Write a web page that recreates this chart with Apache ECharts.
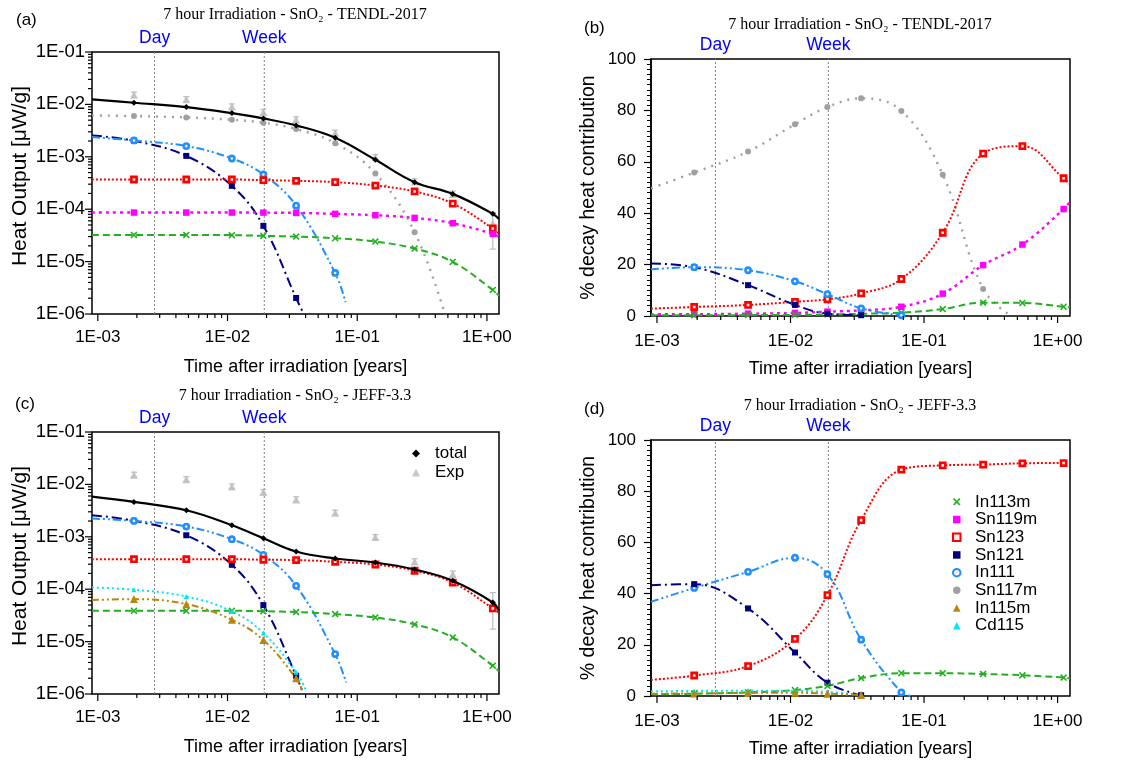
<!DOCTYPE html>
<html><head><meta charset="utf-8">
<script src="https://cdn.jsdelivr.net/npm/echarts@6/dist/echarts.min.js"></script>
<style>html,body{margin:0;padding:0;background:#fff}#c{width:1128px;height:762px}</style>
</head><body><div id="c"></div>
<script>
// ---------- axis ranges / reference lines ----------
const tMin = 0.000902, tMax = 1.239;
const refTimes  = [0.00274, 0.0192];
const refLabels = ['Day', 'Week'];
// measurement times [years]
const times = [0.0019, 0.00481, 0.0108, 0.0189, 0.0338, 0.0676, 0.138, 0.277, 0.545, 1.11];

// experimental heat output (same measurement in (a) and (c))
const exp     = [0.0153, 0.0125, 0.00916, 0.00714, 0.00517, 0.00288, 0.000986, 0.000338, 0.000196, 5.4e-5];
const expLow  = [0.0137, 0.0112, 0.0082, 0.0064, 0.0046, 0.00258, 0.00088, 0.000300, 0.000172, 1.73e-5];
const expHigh = [0.0171, 0.0140, 0.0102, 0.0080, 0.0058, 0.00322, 0.00110, 0.000380, 0.000222, 8.6e-5];

// Each curve: values at `times` (null = no point) and ends = [value at left edge, tail time, tail value]
// ---- (a) TENDL-2017 heat output [uW/g]
const aTotal   = [0.01076,0.0089,0.00682,0.0054,0.00397,0.00231,0.000877,0.000328,0.000196,8.15e-5];
const aTotalE  = [0.01247, tMax, 6.5e-5];
const aSn117m  = [0.00598,0.00565,0.0051,0.00447,0.00338,0.00182,0.000481,3.64e-5,null,null];
const aSn117mE = [0.00617, 0.48, 9e-7];
const aSn121   = [0.00202,0.00104,0.000279,4.81e-5,2.02e-6,null,null,null,null,null];
const aSn121E  = [0.00256, 0.0376, 1.16e-6];
const aIn111   = [0.00205,0.0016,0.000929,0.000459,0.000117,6.07e-6,null,null,null,null];
const aIn111E  = [0.00238, 0.0813, 1.67e-6];
const aSn123   = [0.000369,0.000369,0.000369,0.000358,0.000348,0.000328,0.000283,0.000218,0.000128,4.28e-5];
const aSn123E  = [0.000369, tMax, 3.38e-5];
const aSn119m  = [8.63e-5,8.63e-5,8.63e-5,8.6e-5,8.5e-5,8.15e-5,7.68e-5,6.82e-5,5.4e-5,3.38e-5];
const aSn119mE = [8.63e-5, tMax, 3.0e-5];
const aIn113m  = [3.23e-5,3.23e-5,3.2e-5,3.1e-5,3.0e-5,2.79e-5,2.41e-5,1.77e-5,9.86e-6,2.88e-6];
const aIn113mE = [3.23e-5, tMax, 2.24e-6];

// ---- (b) TENDL-2017 % decay heat contribution
const bSn117m  = [55.8,64.0,74.6,81.3,84.7,79.8,55.0,10.5,null,null];
const bSn117mE = [49.7, 0.45, 0];
const bSn123   = [3.5,4.3,5.5,6.5,8.8,14.4,32.4,63.2,66.1,53.6];
const bSn123E  = [2.86, tMax, 51.2];
const bSn119m  = [0.7,0.9,1.2,1.7,2.2,3.6,8.7,19.8,27.8,41.6];
const bSn119mE = [0.65, tMax, 44.5];
const bIn113m  = [0.3,0.35,0.45,0.6,0.85,1.3,2.7,5.2,5.1,3.6];
const bIn113mE = [0.25, tMax, 3.3];
const bSn121   = [19.0,12.0,4.3,0.9,0.3,null,null,null,null,null];
const bSn121E  = [20.4, null, null];
const bIn111   = [19.0,17.8,13.5,8.5,3.0,0.3,null,null,null,null];
const bIn111E  = [18.1, null, null];

// ---- (c) JEFF-3.3 heat output [uW/g]
const cTotal   = [0.00463,0.00321,0.00166,0.00094,0.000523,0.000385,0.000323,0.000238,0.000145,5.58e-5];
const cTotalE  = [0.00585, tMax, 3.87e-5];
const cSn121   = [0.00202,0.00107,0.000292,4.97e-5,2.23e-6,null,null,null,null,null];
const cSn121E  = [0.00258, 0.0376, 1.15e-6];
const cIn111   = [0.00201,0.00157,0.0009,0.000453,0.000116,5.78e-6,null,null,null,null];
const cIn111E  = [0.00223, 0.082, 1.66e-6];
const cSn123   = [0.000374,0.000374,0.000374,0.000365,0.00036,0.000333,0.000296,0.000225,0.000134,4.3e-5];
const cSn123E  = [0.000374, tMax, 3.5e-5];
const cIn113m  = [3.87e-5,3.87e-5,3.87e-5,3.8e-5,3.66e-5,3.35e-5,2.89e-5,2.13e-5,1.2e-5,3.47e-6];
const cIn113mE = [3.87e-5, tMax, 2.7e-6];
const cCd115   = [9.75e-5,7.27e-5,3.77e-5,1.46e-5,2.59e-6,null,null,null,null,null];
const cCd115E  = [0.000108, 0.0399, 1.24e-6];
const cIn115m  = [6.47e-5,5.19e-5,2.61e-5,1.07e-5,1.99e-6,null,null,null,null,null];
const cIn115mE = [6.19e-5, 0.0376, 1.2e-6];

// ---- (d) JEFF-3.3 % decay heat contribution
const dSn123   = [8.0,11.7,22.3,39.4,68.7,88.4,90.1,90.4,90.9,91.0];
const dSn123E  = [6.3, tMax, 91.0];
const dIn111   = [42.2,48.5,54.0,47.6,22.0,1.4,null,null,null,null];
const dIn111E  = [36.8, 0.08, 0];
const dSn121   = [43.7,34.2,17.0,5.2,0.3,null,null,null,null,null];
const dSn121E  = [43.3, null, null];
const dIn113m  = [0.9,1.4,2.3,4.0,7.0,8.9,8.9,8.6,8.1,7.2];
const dIn113mE = [0.65, tMax, 6.8];
const dCd115   = [2.0,2.1,2.0,1.6,0.4,null,null,null,null,null];
const dCd115E  = [1.8, null, null];
const dIn115m  = [1.0,1.2,1.3,0.9,0.4,null,null,null,null,null];
const dIn115mE = [0.9, null, null];

const legendC = ['total', 'Exp'];
const legendD = ['In113m','Sn119m','Sn123','Sn121','In111','Sn117m','In115m','Cd115'];

// ---------- styles ----------
const SANS = 'Liberation Sans, Arial, sans-serif';
const SERIF = 'Liberation Serif, Times New Roman, serif';
const XPATH = 'path://M0,1.6L1.6,0L5,3.4L8.4,0L10,1.6L6.6,5L10,8.4L8.4,10L5,6.6L1.6,10L0,8.4L3.4,5Z';
const ST = {
  total:  {color:'#000000', dash:'solid', w:2.2, sym:'diamond', size:6, z:5},
  In113m: {color:'#22b022', dash:[7,4], w:2, sym:XPATH, size:7},
  Sn119m: {color:'#ff00ff', dash:[3,4], w:2.4, sym:'rect', size:6.5},
  Sn123:  {color:'#ff0000', dash:[2,2], w:2, sym:'rect', size:5.2, hollow:true},
  Sn121:  {color:'#000080', dash:[10,4,2,4], w:2, sym:'rect', size:6},
  In111:  {color:'#1e90ff', dash:[8,3,2,3,2,3], w:2, sym:'circle', size:5.2, hollow:true},
  Sn117m: {color:'#a0a0a0', dash:[2,6], w:2.4, sym:'circle', size:6},
  In115m: {color:'#b8860b', dash:[7,3,2,3,2,3], w:2, sym:'triangle', size:8},
  Cd115:  {color:'#00e5ff', dash:[2,3], w:2, sym:'triangle', size:5},
  Exp:    {color:'#bdbdbd', sym:'triangle', size:8}
};

function curve(p, name, vals, ends) {
  const s = ST[name];
  const data = [];
  if (ends[0] != null) data.push({value:[tMin, ends[0]], symbol:'none'});
  vals.forEach((v, i) => { if (v != null) data.push([times[i], v]); });
  if (ends[1] != null) data.push({value:[ends[1], ends[2]], symbol:'none'});
  return {
    type:'line', name, xAxisIndex:p, yAxisIndex:p, data,
    smooth:0.4, symbol:s.sym, symbolSize:s.size, showAllSymbol:true,
    lineStyle:{color:s.color, width:s.w, type:s.dash},
    itemStyle: s.hollow ? {color:'#ffecec', borderColor:s.color, borderWidth:2.6} : {color:s.color, borderWidth:0},
    z: s.z || 3, animation:false, emphasis:{disabled:true}
  };
}

// Day / Week guide lines with their labels, placed through the axes
function refSeries(p, yLo, yHi) {
  return {
    type:'custom', xAxisIndex:p, yAxisIndex:p, silent:true, clip:false, z:1, animation:false,
    data: refTimes.map(t => [t, yLo, yHi]), encode:{x:0, y:[1,2]},
    renderItem(params, api) {
      const lo = api.coord([api.value(0), api.value(1)]);
      const hi = api.coord([api.value(0), api.value(2)]);
      return {type:'group', children:[
        {type:'line', shape:{x1:lo[0], y1:lo[1], x2:hi[0], y2:hi[1]},
         style:{stroke:'#808080', lineWidth:1, lineDash:[2,2]}},
        {type:'text', x:hi[0], y:hi[1] - 5,
         style:{text:refLabels[params.dataIndex], fill:'#0000ff', font:'17.5px ' + SANS,
                align:'center', verticalAlign:'bottom'}}
      ]};
    }
  };
}

function expSeries(p) {
  return [{
    type:'custom', xAxisIndex:p, yAxisIndex:p, silent:true, z:1, animation:false,
    data: times.map((t, i) => [t, expLow[i], expHigh[i]]),
    encode:{x:0, y:[1,2]},
    renderItem(params, api) {
      const x = api.value(0);
      const a = api.coord([x, api.value(1)]);
      const b = api.coord([x, api.value(2)]);
      const st = {stroke:'#bdbdbd', lineWidth:1.2};
      return {type:'group', children:[
        {type:'line', shape:{x1:a[0], y1:a[1], x2:b[0], y2:b[1]}, style:st},
        {type:'line', shape:{x1:a[0]-3, y1:a[1], x2:a[0]+3, y2:a[1]}, style:st},
        {type:'line', shape:{x1:b[0]-3, y1:b[1], x2:b[0]+3, y2:b[1]}, style:st}
      ]};
    }
  }, {
    type:'scatter', name:'Exp', xAxisIndex:p, yAxisIndex:p, z:2, animation:false,
    data: times.map((t, i) => [t, exp[i]]),
    symbol:'triangle', symbolSize:ST.Exp.size, itemStyle:{color:ST.Exp.color}
  }];
}

// tick marks for log axes, drawn through the axes' scales
const minorK = [1,2,3,4,5,6,7,8,9];
function tickSeries(p, logY) {
  const data = [];
  for (let d = -4; d <= 0; d++) for (const k of minorK) {
    const v = k * Math.pow(10, d);
    if (v >= tMin && v <= tMax) data.push([v, logY ? 1e-6 : 0, k === 1 ? 7 : 4, 0]);
  }
  if (logY) {
    for (let d = -6; d <= -2; d++) for (const k of minorK) data.push([tMin, k * Math.pow(10, d), k === 1 ? 7 : 4, 1]);
    data.push([tMin, 0.1, 7, 1]);
  }
  return {
    type:'custom', xAxisIndex:p, yAxisIndex:p, silent:true, clip:false, z:10, animation:false,
    data, encode:{x:0, y:1},
    renderItem(params, api) {
      const pt = api.coord([api.value(0), api.value(1)]);
      const len = api.value(2);
      const shape = api.value(3) === 0
        ? {x1:pt[0], y1:pt[1], x2:pt[0], y2:pt[1] + len}
        : {x1:pt[0], y1:pt[1], x2:pt[0] - len, y2:pt[1]};
      return {type:'line', shape, style:{stroke:'#000', lineWidth:1.2}};
    }
  };
}

function expLabel(v) {
  const l = Math.log10(v), e = Math.round(l);
  if (Math.abs(l - e) > 1e-6) return '';
  const a = Math.abs(e);
  return '1E' + (e < 0 ? '-' : '+') + (a < 10 ? '0' : '') + a;
}

function xAxis(p, margin) {
  return {
    type:'log', logBase:10, gridIndex:p, min:tMin, max:tMax,
    axisLine:{show:false}, axisTick:{show:false}, splitLine:{show:false}, minorTick:{show:false},
    axisLabel:{formatter:expLabel, fontSize:17, color:'#000', margin, fontFamily:SANS},
    name:'Time after irradiation [years]', nameLocation:'middle', nameGap:44,
    nameTextStyle:{fontSize:18, color:'#000', fontFamily:SANS}
  };
}
function yLog(p) {
  return {
    type:'log', logBase:10, gridIndex:p, min:1e-6, max:0.1,
    axisLine:{show:false}, axisTick:{show:false}, splitLine:{show:false},
    axisLabel:{formatter:expLabel, fontSize:18.5, color:'#000', margin:7, fontFamily:SANS},
    name:'Heat Output [μW/g]', nameLocation:'middle', nameGap:61,
    nameTextStyle:{fontSize:21, color:'#000', fontFamily:SANS, padding:[0,0,0,14]}
  };
}
function yPct(p) {
  return {
    type:'value', gridIndex:p, min:0, max:100, interval:20,
    axisLine:{show:true, lineStyle:{color:'#000', width:1.5}},
    axisTick:{show:true, length:7, lineStyle:{color:'#000', width:1.2}},
    minorTick:{show:true, splitNumber:10, length:4, lineStyle:{color:'#000', width:1}},
    splitLine:{show:false},
    axisLabel:{fontSize:17, color:'#000', margin:15, fontFamily:SANS},
    name:'% decay heat contribution', nameLocation:'middle', nameGap:52,
    nameTextStyle:{fontSize:19.5, color:'#000', fontFamily:SANS}
  };
}

const gridStyle = {show:true, borderColor:'#000', borderWidth:1.5, backgroundColor:'transparent'};

function txt(x, y, text, font, align) {
  return {type:'text', x, y, silent:true,
    style:{text, font, fill:'#000', align:align || 'center', verticalAlign:'middle'}};
}

const series = [
  // (a)
  refSeries(0, 1e-6, 0.1),
  tickSeries(0, true),
  ...expSeries(0),
  curve(0, 'total', aTotal, aTotalE),
  curve(0, 'Sn117m', aSn117m, aSn117mE),
  curve(0, 'Sn121', aSn121, aSn121E),
  curve(0, 'In111', aIn111, aIn111E),
  curve(0, 'Sn123', aSn123, aSn123E),
  curve(0, 'Sn119m', aSn119m, aSn119mE),
  curve(0, 'In113m', aIn113m, aIn113mE),
  // (b)
  refSeries(1, 0, 100),
  tickSeries(1, false),
  curve(1, 'Sn117m', bSn117m, bSn117mE),
  curve(1, 'Sn123', bSn123, bSn123E),
  curve(1, 'Sn119m', bSn119m, bSn119mE),
  curve(1, 'In113m', bIn113m, bIn113mE),
  curve(1, 'Sn121', bSn121, bSn121E),
  curve(1, 'In111', bIn111, bIn111E),
  // (c)
  refSeries(2, 1e-6, 0.1),
  tickSeries(2, true),
  ...expSeries(2),
  curve(2, 'total', cTotal, cTotalE),
  curve(2, 'Sn121', cSn121, cSn121E),
  curve(2, 'In111', cIn111, cIn111E),
  curve(2, 'Sn123', cSn123, cSn123E),
  curve(2, 'In113m', cIn113m, cIn113mE),
  curve(2, 'Cd115', cCd115, cCd115E),
  curve(2, 'In115m', cIn115m, cIn115mE),
  // (d)
  refSeries(3, 0, 100),
  tickSeries(3, false),
  curve(3, 'Sn123', dSn123, dSn123E),
  curve(3, 'In111', dIn111, dIn111E),
  curve(3, 'Sn121', dSn121, dSn121E),
  curve(3, 'In113m', dIn113m, dIn113mE),
  curve(3, 'Cd115', dCd115, dCd115E),
  curve(3, 'In115m', dIn115m, dIn115mE)
];

const option = {
  animation:false,
  backgroundColor:'#ffffff',
  textStyle:{fontFamily:SANS},
  grid:[
    Object.assign({left:92, top:52, width:407, height:262}, gridStyle),
    Object.assign({left:651, top:59, width:419, height:257}, gridStyle),
    Object.assign({left:92, top:432, width:407, height:262}, gridStyle),
    Object.assign({left:651, top:440, width:419, height:256}, gridStyle)
  ],
  xAxis:[xAxis(0, 15), xAxis(1, 17), xAxis(2, 15), xAxis(3, 17)],
  yAxis:[yLog(0), yPct(1), yLog(2), yPct(3)],
  legend:[
    {data: legendC.map(n => ({name:n, icon:ST[n].sym})), orient:'vertical', left:412, top:444,
     padding:0, itemWidth:8, itemHeight:8, itemGap:0, selectedMode:false,
     textStyle:{fontSize:17, lineHeight:19, color:'#000', fontFamily:SANS, padding:[0,0,0,10]}},
    {data: legendD.map(n => ({name:n, icon:ST[n].sym})), orient:'vertical', left:952, top:493,
     padding:0, itemWidth:7.5, itemHeight:7.5, itemGap:0, selectedMode:false,
     textStyle:{fontSize:17, lineHeight:17.7, color:'#000', fontFamily:SANS, padding:[0,0,0,9.5]}}
  ],
  graphic:[
    txt(16, 20, '(a)', '17px ' + SANS, 'left'),
    txt(584, 28, '(b)', '17px ' + SANS, 'left'),
    txt(15, 404, '(c)', '17px ' + SANS, 'left'),
    txt(584, 409, '(d)', '17px ' + SANS, 'left'),
    txt(295, 15, '7 hour Irradiation - SnO₂ - TENDL-2017', '16px ' + SERIF),
    txt(860, 25, '7 hour Irradiation - SnO₂ - TENDL-2017', '16px ' + SERIF),
    txt(295, 396, '7 hour Irradiation - SnO₂ - JEFF-3.3', '16px ' + SERIF),
    txt(860, 406, '7 hour Irradiation - SnO₂ - JEFF-3.3', '16px ' + SERIF)
  ],
  series
};

const chart = echarts.init(document.getElementById('c'), null, {renderer:'canvas'});
chart.setOption(option);
</script>
</body></html>
